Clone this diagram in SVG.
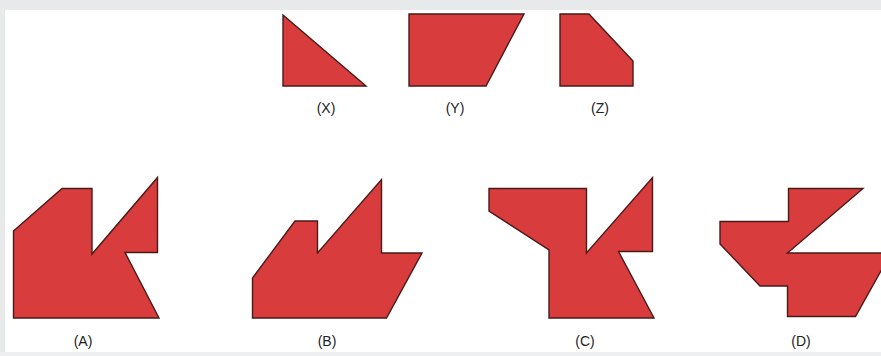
<svg xmlns="http://www.w3.org/2000/svg" width="881" height="356" viewBox="0 0 881 356">
<style>
.s{fill:#d83c3c;stroke:#4a1a1a;stroke-width:1.4;stroke-linejoin:miter}
.t{font-family:"Liberation Sans",Arial,sans-serif;font-size:14px;fill:#222;text-anchor:middle}
</style>
<rect width="881" height="356" fill="#ffffff"/>
<rect x="0" y="0" width="881" height="10" fill="#e7e9ea"/>
<rect x="0" y="0" width="5" height="356" fill="#e7e9ea"/>
<rect x="0" y="352" width="881" height="4" fill="#eeeff0"/>
<g id="X"><polygon class="s" points="283,15 283,86 366,86"/><text class="t" x="326" y="113">(X)</text></g>
<g id="Y"><polygon class="s" points="409,14 524,14 486,86 409,86"/><text class="t" x="455" y="113">(Y)</text></g>
<g id="Z"><polygon class="s" points="560,14 589,14 633,61 633,86 560,86"/><text class="t" x="600" y="113">(Z)</text></g>
<g id="A"><polygon class="s" points="13.5,231 62,188.5 92,188.5 92,254 157.5,177.5 157.5,252.5 125,252.5 159,318 13.5,318"/><text class="t" x="83" y="346">(A)</text></g>
<g id="B"><polygon class="s" points="252.5,278 295,221 317.5,221 317.5,253 381.5,179.5 381.5,253 422,253 386.5,318 252.5,318"/><text class="t" x="327" y="346">(B)</text></g>
<g id="C"><polygon class="s" points="489,188.5 586.5,188.5 586.5,253 652.5,177.5 652.5,251.5 618.5,251.5 654,318 549,318 549,250 489,211"/><text class="t" x="585" y="346">(C)</text></g>
<g id="D"><polygon class="s" points="788.5,188.5 863,188.5 787.5,253 891,253 855.5,316.5 787.5,316.5 787.5,286 760,286 720,244 720,221.5 788.5,221.5"/><text class="t" x="801" y="346">(D)</text></g>
<g id="connectors"/>
</svg>
